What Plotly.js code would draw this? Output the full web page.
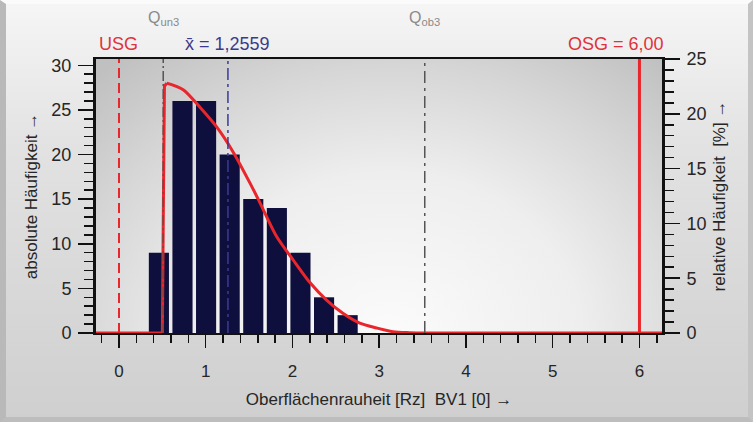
<!DOCTYPE html>
<html><head><meta charset="utf-8">
<script src="https://cdn.plot.ly/plotly-3.0.1.min.js"></script>
<style>
html,body{margin:0;padding:0;}
body{width:753px;height:422px;overflow:hidden;background:linear-gradient(180deg,#f6f6f6 0%,#e2e2e2 35%,#cfcfcf 100%);position:relative;}
#frame{position:absolute;left:0;top:0;width:753px;height:422px;box-sizing:border-box;border-left:6px solid #b9b9b9;border-top:4px solid #fbfbfb;border-right:5px solid #c4c4c4;border-bottom:5px solid #bdbdbd;}
#pbg{position:absolute;left:96px;top:59px;width:566px;height:274px;background:radial-gradient(ellipse 75% 130% at 52% 100%,#fbfbfb 0%,#eeeeee 45%,#d6d6d6 75%,#c0c0c0 100%);}
#chart{position:absolute;left:0;top:0;width:753px;height:422px;}
</style></head>
<body>
<div id="frame"></div>
<div id="pbg"></div>
<div id="chart"></div>
<script>
// histogram bins (class centres) and absolute counts
const binCenters = [0.46, 0.732, 1.004, 1.276, 1.548, 1.82, 2.092, 2.364, 2.636];
const counts     = [9, 26, 26, 20, 15, 14, 9, 4, 2];
// fitted distribution curve (relative frequency, %): flat + steep rise part, then smooth tail
const riseX = [-0.265, 0.50, 0.51, 0.524, 0.55];
const riseY = [0, 0, 10, 22.5, 22.8];
const tailX = [0.55, 0.74, 0.933, 1.126, 1.317, 1.509, 1.624, 1.817, 2.005, 2.201, 2.393, 2.581, 2.776, 2.969, 3.157, 3.35, 3.545, 6.26];
const tailY = [22.8, 22.2, 20.6, 18.8, 16.5, 13.7, 11.9, 8.8, 6.7, 4.6, 3.0, 1.8, 0.9, 0.46, 0.12, 0.03, 0, 0];
// limits / statistics
const USG = 0, OSG = 6, MEAN = 1.2559, QUN3 = 0.51, QOB3 = 3.525;
const xTicks = [0, 1, 2, 3, 4, 5, 6];

const FONT = 'Liberation Sans, Arial, sans-serif';
const TXT = '#262626';
const traces = [
  {type:'bar', x:binCenters, y:counts, width:0.232, marker:{color:'#0e0f3c', line:{width:0}}, yaxis:'y', xaxis:'x', hoverinfo:'skip'},
  {type:'scatter', mode:'lines', x:riseX, y:riseY, yaxis:'y2', line:{color:'#e8262b', width:3}, cliponaxis:false, hoverinfo:'skip'},
  {type:'scatter', mode:'lines', x:tailX, y:tailY, yaxis:'y2', line:{color:'#e8262b', width:3, shape:'spline', smoothing:0.8}, cliponaxis:false, hoverinfo:'skip'}
];
function vline(x, color, dash, width){
  return {type:'line', xref:'x', yref:'paper', x0:x, x1:x, y0:0, y1:1, line:{color:color, dash:dash, width:width}, layer:'above'};
}
const layout = {
  width:753, height:422,
  margin:{l:96, r:91, t:59, b:89},
  paper_bgcolor:'rgba(0,0,0,0)', plot_bgcolor:'rgba(0,0,0,0)',
  showlegend:false,
  font:{family:FONT, color:TXT, size:16},
  xaxis:{range:[-0.265, 6.26], tickvals:xTicks, ticks:'outside', ticklen:13, tickwidth:1.5, tickcolor:'#111',
    minor:{dtick:0.2, tick0:0, ticks:'outside', ticklen:8, tickwidth:1.5, tickcolor:'#111'},
    showline:true, linecolor:'#111', linewidth:2, mirror:true, showgrid:false, zeroline:false, layer:'below traces',
    ticklabelstandoff:9, tickfont:{size:17, color:TXT},
    title:{text:'Oberflächenrauheit [Rz]  BV1 [0] →', font:{size:17, color:TXT}, standoff:13}},
  yaxis:{range:[0, 30.7], dtick:5, tick0:0, ticks:'outside', ticklen:15, tickwidth:1.5, tickcolor:'#111',
    minor:{dtick:1, ticks:'outside', ticklen:9, tickwidth:1.5, tickcolor:'#111'},
    showline:true, linecolor:'#111', linewidth:3, showgrid:false, zeroline:false,
    ticklabelstandoff:3, tickfont:{size:18, color:TXT},
    title:{text:'absolute Häufigkeit →', font:{size:17, color:TXT}, standoff:10}},
  yaxis2:{range:[0, 25], overlaying:'y', side:'right', dtick:5, tick0:0, ticks:'outside', ticklen:15, tickwidth:1.5, tickcolor:'#111',
    minor:{dtick:1, ticks:'outside', ticklen:9, tickwidth:1.5, tickcolor:'#111'},
    showline:true, linecolor:'#111', linewidth:3, showgrid:false, zeroline:false,
    ticklabelstandoff:3, tickfont:{size:18, color:TXT},
    title:{text:'relative Häufigkeit  [%] →', font:{size:17, color:TXT}, standoff:8}},
  shapes:[
    vline(USG, '#e8262b', '10px,5px', 2),
    vline(QUN3, '#555555', '10px,3px,2px,3px', 1.5),
    vline(MEAN, '#3b3b96', '12px,4px,3px,4px', 1.5),
    vline(QOB3, '#555555', '12px,5px,3px,5px', 1.5),
    vline(OSG, '#e8262b', 'solid', 3)
  ],
  annotations:[
    {xref:'x', yref:'paper', x:USG, y:1, yanchor:'middle', yshift:15, text:'USG', showarrow:false, font:{size:18, color:'#e0323c'}},
    {xref:'x', yref:'paper', x:MEAN, y:1, yanchor:'middle', yshift:15, text:'x̄ = 1,2559', showarrow:false, font:{size:18, color:'#3b3b8c'}},
    {xref:'x', yref:'paper', x:QUN3, y:1, yanchor:'middle', yshift:41, text:'Q<sub>un3</sub>', showarrow:false, font:{size:16, color:'#8a8a8a'}},
    {xref:'x', yref:'paper', x:QOB3, y:1, yanchor:'middle', yshift:41, text:'Q<sub>ob3</sub>', showarrow:false, font:{size:16, color:'#8a8a8a'}},
    {xref:'paper', yref:'paper', x:1, xanchor:'right', xshift:4, y:1, yanchor:'middle', yshift:15, text:'OSG = 6,00', showarrow:false, font:{size:18, color:'#e0323c'}}
  ]
};
Plotly.newPlot('chart', traces, layout, {staticPlot:true, displayModeBar:false});
</script>
</body></html>
